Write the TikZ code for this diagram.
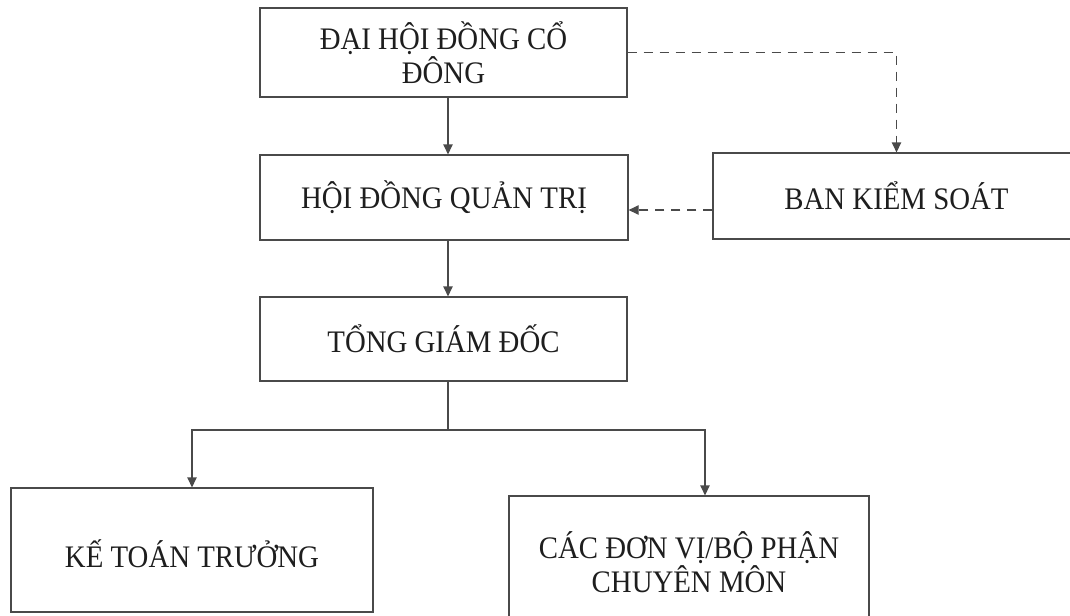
\documentclass[tikz,border=0pt]{standalone}
\usepackage{fontspec}
\setmainfont{Liberation Serif}[FakeStretch=0.92]
\usetikzlibrary{arrows.meta,calc}
\definecolor{linegray}{HTML}{4A4A4A}
\definecolor{textdark}{HTML}{1E1E1E}
\begin{document}
\begin{tikzpicture}[x=0.75pt,y=-0.75pt,
  box/.style={draw=linegray,line width=0.9pt,rectangle,align=center,
    text=textdark,font=\fontsize{23.5pt}{25.5pt}\selectfont,inner sep=2pt},
  arr/.style={draw=linegray,line width=0.9pt,-{Triangle[width=7pt,length=7.5pt]}},
  dasharr/.style={arr,dash pattern=on 7pt off 5pt}]
\useasboundingbox (0,0) rectangle (1070,615);
\clip (0,0) rectangle (1070,615);
\fill[white] (0,0) rectangle (1070,615);
% boxes
\node[box,minimum width=275.25pt,minimum height=66.75pt] (A) at (443.5,52.5) {ĐẠI HỘI ĐỒNG CỔ\\ĐÔNG};
\node[box,minimum width=276pt,minimum height=63.75pt] (B) at (444,197.5) {HỘI ĐỒNG QUẢN TRỊ};
\node[box,minimum width=275.25pt,minimum height=64.5pt] (K) at (896.5,196) {BAN KIỂM SOÁT};
\node[box,minimum width=275.25pt,minimum height=63pt] (T) at (443.5,339) {TỔNG GIÁM ĐỐC};
\node[box,minimum width=271.5pt,minimum height=93pt,text height=26pt,text depth=0pt] (KT) at (192,550) {KẾ TOÁN TRƯỞNG};
\node[box,minimum width=270pt,minimum height=99pt] (C) at (689,562) {CÁC ĐƠN VỊ/BỘ PHẬN\\CHUYÊN MÔN};
% helper coordinates
\coordinate (spine) at (448,0);
\coordinate (dy) at (0,210);
\coordinate (fork) at (448,430);
\coordinate (cx) at (705,0);
% connectors
\draw[arr] (A.south -| spine) -- (B.north -| spine);
\draw[arr] (B.south -| spine) -- (T.north -| spine);
\draw[dasharr] (A.east) -| (K.north);
\draw[dasharr] (K.west |- dy) -- (B.east |- dy);
\draw[draw=linegray,line width=0.9pt] (T.south -| spine) -- (fork);
\draw[arr] (fork) -| (KT.north);
\draw[arr] (fork) -| (C.north -| cx);
\end{tikzpicture}
\end{document}
